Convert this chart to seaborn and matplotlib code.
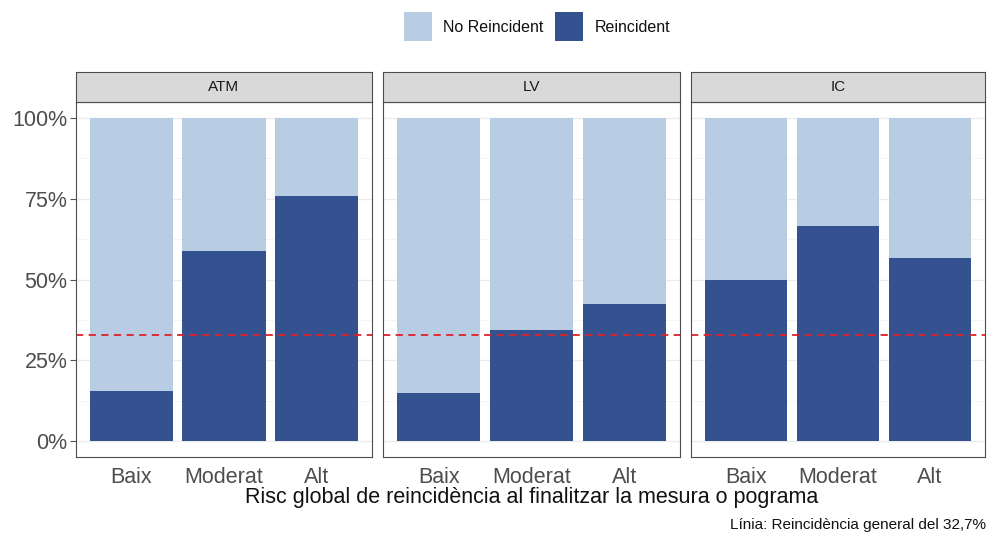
import matplotlib.pyplot as plt
import seaborn as sns
import pandas as pd
from matplotlib.patches import Rectangle
from matplotlib.ticker import FuncFormatter

sns.set_style("white")
plt.rcParams['font.family'] = ['Liberation Sans', 'DejaVu Sans']

facets = ['ATM', 'LV', 'IC']
risk_levels = ['Baix', 'Moderat', 'Alt']
reincident = {
    'ATM': [15.3, 58.7, 75.8],
    'LV': [14.9, 34.5, 42.5],
    'IC': [50.0, 66.5, 56.6],
}
general_rate = 32.7

light = '#b8cce4'
dark = '#34528f'

rows = []
for f in facets:
    for lvl, v in zip(risk_levels, reincident[f]):
        rows.append({'facet': f, 'risk': lvl, 'reinc': v / 100, 'total': 1.0})
df = pd.DataFrame(rows)

W, H = 988, 534
fig = plt.figure(figsize=(W / 100, H / 100), dpi=100)

panel_x = [(76, 372), (383, 680), (691, 985)]
top, bottom = 102, 457
strip_h = 30

for f, (x0, x1) in zip(facets, panel_x):
    ax = fig.add_axes([x0 / W, 1 - bottom / H, (x1 - x0) / W, (bottom - top) / H])
    sub = df[df['facet'] == f]
    ax.set_axisbelow(True)
    ax.yaxis.set_major_locator(plt.FixedLocator([0, 0.25, 0.5, 0.75, 1.0]))
    ax.yaxis.set_minor_locator(plt.FixedLocator([0.125, 0.375, 0.625, 0.875]))
    ax.grid(True, which='major', color='#ebebeb', linewidth=1.0)
    ax.grid(True, which='minor', axis='y', color='#f4f4f4', linewidth=0.6)
    sns.barplot(data=sub, x='risk', y='total', order=risk_levels, color=light,
                width=0.9, saturation=1, ax=ax, errorbar=None, linewidth=0)
    sns.barplot(data=sub, x='risk', y='reinc', order=risk_levels, color=dark,
                width=0.9, saturation=1, ax=ax, errorbar=None, linewidth=0)
    ax.axhline(general_rate / 100, color='#e0202a', linestyle=(0, (4, 3)), linewidth=1.3)
    ax.set_ylim(-0.05, 1.05)
    ax.set_xlim(-0.6, 2.6)
    ax.set_xlabel('')
    ax.set_ylabel('')
    for s in ax.spines.values():
        s.set_color('#4d4d4d')
        s.set_linewidth(0.8)
    ax.tick_params(axis='x', labelsize=15.5, colors='#555555', length=4, width=0.8, pad=3,
                   labelcolor='#4d4d4d')
    if f == 'ATM':
        ax.yaxis.set_major_formatter(FuncFormatter(lambda v, p: f"{int(round(v * 100))}%"))
        ax.tick_params(axis='y', labelsize=15.5, colors='#555555', length=4, width=0.8,
                       labelcolor='#4d4d4d', left=True, pad=2)
    else:
        ax.tick_params(axis='y', left=False, labelleft=False)
    # strip
    sax = fig.add_axes([x0 / W, 1 - top / H, (x1 - x0) / W, strip_h / H])
    sax.set_facecolor('#d9d9d9')
    sax.set_xticks([])
    sax.set_yticks([])
    for s in sax.spines.values():
        s.set_color('#4d4d4d')
        s.set_linewidth(0.8)
    sax.text(0.5, 0.5, f, ha='center', va='center', fontsize=11, color='#1a1a1a',
             transform=sax.transAxes)

fig.text(532 / W, 1 - 497 / H, 'Risc global de reincidència al finalitzar la mesura o pograma',
         ha='center', va='center', fontsize=15.5, color='#111111')
fig.text(986 / W, 1 - 525 / H, 'Línia: Reincidència general del 32,7%',
         ha='right', va='center', fontsize=11, color='#111111')

# legend
leg_items = [('No Reincident', light, 404, 443), ('Reincident', dark, 555, 595)]
for label, col, bx, tx in leg_items:
    fig.patches.append(Rectangle((bx / W, 1 - 41 / H), 28 / W, 29 / H, facecolor=col,
                                 edgecolor='none', transform=fig.transFigure, figure=fig))
    fig.text(tx / W, 1 - 27 / H, label, ha='left', va='center', fontsize=11.5, color='#111111')

plt.savefig('out.png', dpi=100)
plt.close()
